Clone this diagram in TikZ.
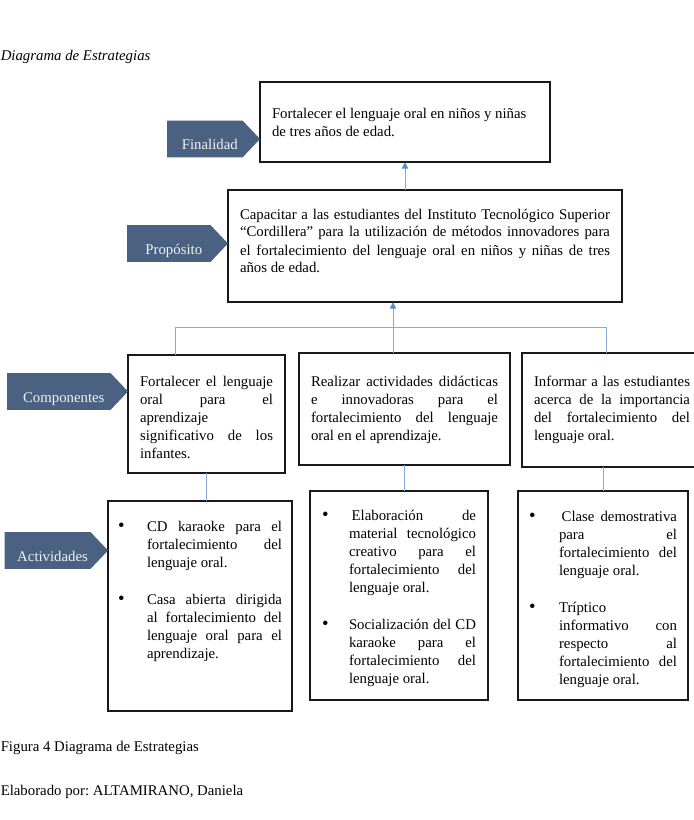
\documentclass[tikz,border=0pt]{standalone}
\usepackage{fontspec}
\setmainfont{Liberation Serif}
\usepackage{tikz}
\usetikzlibrary{arrows.meta, shapes.symbols, calc}
\definecolor{tagblue}{RGB}{74,97,130}
\definecolor{linkblue}{RGB}{130,172,215}
\definecolor{tipblue}{RGB}{85,140,205}
\tolerance=10000 \hbadness=10000 \hyphenpenalty=10000
\frenchspacing
% text block of a box: width, height, space above, text
\newcommand{\boxtext}[4]{\parbox[t][#2][t]{#1}{\vspace*{#3}#4}}
% bullet item: indent, text
\newcommand{\bulletitem}[2]{\par\noindent\hangindent=#1\hangafter=1\makebox[#1][l]{\fontsize{14pt}{13.5pt}\selectfont\textbullet}#2}

\begin{document}
\begin{tikzpicture}[x=0.75pt, y=-0.75pt,
  font=\fontsize{11.1pt}{13.5pt}\selectfont,
  box/.style={draw=black!90, line width=1.2pt, anchor=north west, inner ysep=0pt, inner xsep=9pt, outer sep=0pt},
  tag/.style={signal, signal to=east, signal pointer angle=93, fill=tagblue, text=white!92!tagblue,
    minimum height=27.5pt, inner xsep=2pt, inner ysep=0pt, text height=16pt, text depth=0pt, anchor=east, outer sep=0pt,
    execute at begin node=\hspace*{7.5pt}},
  link/.style={draw=linkblue, line width=0.7pt},
  tip/.style={-{Triangle[length=5pt, width=4.6pt, color=tipblue]}}]
\useasboundingbox (0,0) rectangle (693,820);
% Title
\node[anchor=base west, inner sep=0pt] (title) at (0.5,61) {\itshape Diagrama de Estrategias};
% Finalidad
\node[box] (fin) at (260,82) {\boxtext{199.5pt}{60pt}{18.3pt}{\strut Fortalecer el lenguaje oral en niños y niñas\\ de tres años de edad.}};
% Proposito
\node[box] (prop) at (228,190) {\boxtext{277.5pt}{84pt}{12.3pt}{\strut Capacitar a las estudiantes del Instituto Tecnológico Superior\linebreak ``Cordillera'' para la utilización de métodos innovadores para\linebreak el fortalecimiento del lenguaje oral en niños y niñas de tres\linebreak años de edad.}};
% Componentes
\node[box] (c1) at (128,355) {\boxtext{99.75pt}{88.5pt}{13.8pt}{\strut Fortalecer el lenguaje\linebreak oral para el\linebreak aprendizaje\\ significativo de los\linebreak infantes.}};
\node[box] (c2) at (299,353) {\boxtext{140.25pt}{84pt}{15.3pt}{\strut Realizar actividades didácticas\linebreak e innovadoras para el\linebreak fortalecimiento del lenguaje\linebreak oral en el aprendizaje.}};
\node[box] (c3) at (522,353) {\boxtext{117pt}{85.5pt}{15.3pt}{\strut Informar a las estudiantes\linebreak acerca de la importancia\linebreak del fortalecimiento del\linebreak lenguaje oral.}};
% Actividades
\node[box, inner xsep=7.5pt] (a1) at (108,501) {\boxtext{123pt}{157.5pt}{13.5pt}{%
  \bulletitem{21.75pt}{\strut CD karaoke para el\linebreak fortalecimiento del\linebreak lenguaje oral.}\par\vspace{14.5pt}%
  \bulletitem{21.75pt}{\strut Casa abierta dirigida\linebreak al fortalecimiento del\linebreak lenguaje oral para el\linebreak aprendizaje.}}};
\node[box] (a2) at (310,491) {\boxtext{115.5pt}{156.75pt}{12.3pt}{%
  \bulletitem{20.25pt}{\strut\hspace*{2pt}Elaboración de\linebreak material tecnológico\linebreak creativo para el\linebreak fortalecimiento del\linebreak lenguaje oral.}\par\vspace{14.5pt}%
  \bulletitem{20.25pt}{\strut Socialización del CD\linebreak karaoke para el\linebreak fortalecimiento del\linebreak lenguaje oral.}}};
\node[box, inner xsep=8.25pt] (a3) at (518,491) {\boxtext{111pt}{156.75pt}{13.5pt}{%
  \bulletitem{22.5pt}{\strut\hspace*{2pt}Clase demostrativa\linebreak para el\linebreak fortalecimiento del\linebreak lenguaje oral.}\par\vspace{14.5pt}%
  \bulletitem{22.5pt}{\strut Tríptico\\ informativo con\linebreak respecto al\linebreak fortalecimiento del\linebreak lenguaje oral.}}};
% Tags
\node[tag, minimum width=69.75pt] (finalidad) at (260,139) {Finalidad};
\node[tag, minimum width=75.75pt] (proposito) at (228,243.5) {Propósito};
\node[tag, minimum width=90.75pt] (componentes) at (128,391.5) {Componentes};
\node[tag, minimum width=75.75pt] (actividades) at (108,550.5) {Actividades};
% Links
\coordinate (hub) at (393,327);
\coordinate (hubL) at (175,327);
\coordinate (hubR) at (606,327);
\draw[link, tip] (prop.north -| fin.south) -- (fin.south);
\draw[link, tip] (hub) -- (hub |- prop.south);
\draw[link] (hubL |- c1.north) -- (hubL) -- (hubR) -- (hubR |- c3.north);
\draw[link] (hub) -- (hub |- c2.north);
\draw[link] (c1.south) -- (c1.south |- a1.north);
\draw[link] (c2.south) -- (c2.south |- a2.north);
\draw[link] (a3.north |- c3.south) -- (a3.north);
% Captions
\node[anchor=base west, inner sep=0pt] (figcap) at (0.5,751) {Figura 4 Diagrama de Estrategias};
\node[anchor=base west, inner sep=0pt] (author) at (0.5,795) {Elaborado por: ALTAMIRANO, Daniela};
\end{tikzpicture}
\end{document}
